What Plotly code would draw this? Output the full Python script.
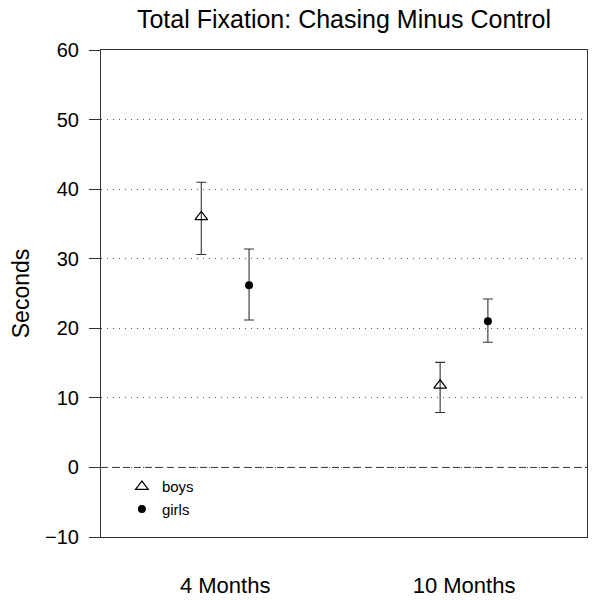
import plotly.graph_objects as go

# ---- data ----
ages = ["4 Months", "10 Months"]
age_pos = [1, 2]
boys_mean = [36.0, 11.8]
boys_upper = [41.0, 15.1]
boys_lower = [30.6, 7.9]
girls_mean = [26.2, 21.0]
girls_upper = [31.4, 24.2]
girls_lower = [21.2, 18.0]
y_ticks = [-10, 0, 10, 20, 30, 40, 50, 60]

offset = 0.1
FONT = "Liberation Sans, Arial, Helvetica, sans-serif"
INK = "#333333"

def err(mean, up, lo):
    return dict(type="data", symmetric=False,
                array=[u - m for u, m in zip(up, mean)],
                arrayminus=[m - l for m, l in zip(mean, lo)],
                color=INK, thickness=1.1, width=5)

fig = go.Figure()
fig.add_trace(go.Scatter(
    x=[p - offset for p in age_pos], y=boys_mean, mode="markers", name="boys",
    marker=dict(symbol="triangle-up-open", size=11, color="black",
                line=dict(width=1.2, color="black")),
    error_y=err(boys_mean, boys_upper, boys_lower)))
fig.add_trace(go.Scatter(
    x=[p + offset for p in age_pos], y=girls_mean, mode="markers", name="girls",
    marker=dict(symbol="circle", size=8, color="black"),
    error_y=err(girls_mean, girls_upper, girls_lower)))

fig.add_hline(y=0, line=dict(color=INK, width=1, dash="7px,4px"), layer="below")

# page body has an 8px default margin, so the figure is 590x592
W, H = 590, 592
fig.update_layout(
    width=W, height=H,
    margin=dict(l=93, r=11, t=42, b=63, autoexpand=False),
    paper_bgcolor="white", plot_bgcolor="white",
    font=dict(family=FONT, color="black"),
    title=dict(text="Total Fixation: Chasing Minus Control",
               font=dict(size=25, color="black"),
               x=0.5, xref="paper", xanchor="center",
               y=1 - 11 / H, yref="container", yanchor="middle"),
    showlegend=True,
    legend=dict(x=0.043, y=0.137, xanchor="left", yanchor="top",
                bgcolor="rgba(0,0,0,0)", borderwidth=0,
                font=dict(size=15, color="black"),
                itemwidth=30, tracegroupgap=0),
    xaxis=dict(range=[0.48, 2.515], tickvals=age_pos, ticktext=ages,
               ticks="", showgrid=False, zeroline=False, automargin=False,
               showline=True, mirror=True, linecolor=INK, linewidth=1.2,
               tickfont=dict(size=22, color="black"),
               ticklabelstandoff=28),
    yaxis=dict(range=[-10, 60], tickvals=y_ticks, automargin=False,
               ticks="outside", ticklen=11, tickcolor=INK, tickwidth=1,
               showgrid=True, gridcolor="#555555", gridwidth=1,
               griddash="1px,5px",
               zeroline=False,
               showline=True, mirror=True, linecolor=INK, linewidth=1.2,
               tickfont=dict(size=20, color="black"),
               ticklabelstandoff=6,
               title=dict(text="Seconds", font=dict(size=23, color="black"),
                          standoff=16)),
)

fig.write_html("out.html")
